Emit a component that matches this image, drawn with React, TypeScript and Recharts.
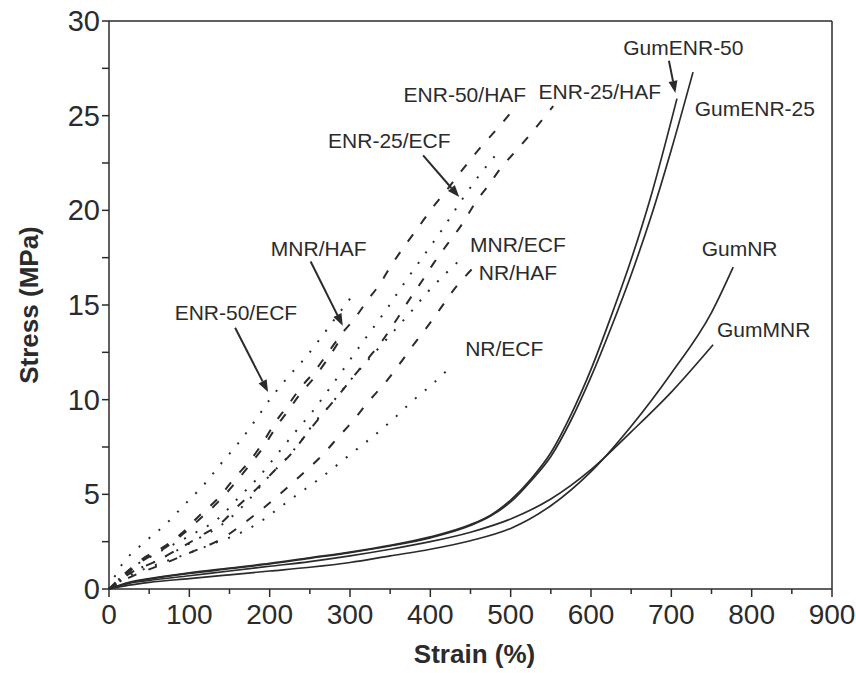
import React from 'react';
import { LineChart, Line, XAxis, YAxis, ReferenceLine, ReferenceDot } from 'recharts';

const INK = '#2b2b2b';
const FONT = '"Liberation Sans", Arial, sans-serif';

type Pt = { x: number; y: number };
const pts = (arr: number[][]): Pt[] => arr.map(([x, y]) => ({ x, y }));

// filled compounds: HAF dashed, ECF dotted
const enr50Ecf = pts([[0, 0], [10, 0.9], [20, 1.5], [45, 2.5], [70, 3.4], [95, 4.5], [118, 5.5], [139, 6.6], [161, 7.7], [182, 8.9], [200, 10.0], [223, 11.2], [246, 12.3], [273, 13.8], [294, 15.0], [305, 15.6]]);
const enr50Haf = pts([[0, 0], [22, 0.9], [42, 1.6], [67, 2.2], [92, 3.0], [113, 3.9], [136, 4.8], [157, 5.9], [176, 6.8], [194, 7.9], [207, 8.8], [221, 9.6], [238, 10.6], [256, 11.5], [273, 12.5], [290, 13.5], [306, 14.3], [321, 15.2], [337, 16.1], [350, 17.0], [366, 18.0], [385, 19.1], [402, 20.1], [421, 21.1], [441, 22.2], [462, 23.3], [483, 24.3], [503, 25.3]]);
const mnrHaf = pts([[0, 0], [22, 0.8], [42, 1.5], [67, 2.1], [92, 2.9], [113, 3.7], [136, 4.6], [157, 5.6], [176, 6.6], [194, 7.6], [207, 8.5], [221, 9.3], [238, 10.3], [256, 11.2], [273, 12.2], [291, 13.4]]);
const enr25Ecf = pts([[0, 0], [25, 1.0], [60, 1.9], [100, 2.8], [138, 3.8], [163, 4.9], [186, 5.9], [211, 7.2], [232, 8.3], [252, 9.3], [273, 10.5], [290, 11.5], [310, 12.7], [329, 13.8], [346, 14.8], [365, 16.0], [390, 17.5], [415, 19.0], [440, 20.6], [460, 21.8], [483, 23.0]]);
const enr25Haf = pts([[0, 0], [25, 0.8], [60, 1.5], [90, 2.2], [116, 2.85], [140, 3.5], [161, 4.4], [184, 5.3], [207, 6.3], [228, 7.2], [246, 8.2], [265, 9.2], [285, 10.2], [304, 11.2], [323, 12.2], [340, 13.1], [356, 14.1], [371, 15.1], [387, 16.1], [404, 17.2], [421, 18.2], [440, 19.3], [456, 20.4], [472, 21.3], [489, 22.3], [508, 23.2], [528, 24.2], [553, 25.5]]);
const mnrEcf = pts([[0, 0], [25, 0.8], [60, 1.5], [100, 2.4], [151, 3.75], [176, 4.8], [198, 5.9], [223, 7.0], [244, 8.1], [254, 8.7], [275, 9.7], [298, 10.9], [331, 12.5], [352, 13.5], [375, 14.6], [397, 15.7], [420, 16.7], [440, 17.5]]);
const nrHaf = pts([[0, 0], [25, 0.6], [60, 1.2], [100, 1.9], [144, 2.75], [167, 3.45], [190, 4.2], [215, 5.1], [240, 6.05], [265, 7.05], [285, 8.0], [304, 8.9], [323, 9.9], [344, 10.9], [362, 11.9], [379, 12.9], [397, 13.9], [414, 14.9], [431, 15.9], [452, 16.9]]);
const nrEcf = pts([[0, 0], [25, 0.7], [60, 1.3], [100, 1.9], [130, 2.4], [163, 2.95], [190, 3.6], [203, 4.0], [225, 4.7], [250, 5.45], [263, 5.85], [303, 7.2], [327, 8.0], [352, 8.9], [377, 9.9], [402, 10.8], [427, 11.8]]);

// gum compounds: solid
const gumEnr50 = pts([[0, 0], [25, 0.35], [50, 0.55], [100, 0.85], [150, 1.1], [200, 1.35], [250, 1.65], [300, 1.95], [350, 2.3], [400, 2.75], [450, 3.4], [475, 3.9], [500, 4.7], [525, 5.8], [550, 7.2], [575, 9.2], [600, 11.6], [625, 14.4], [650, 17.4], [675, 20.8], [707, 25.9]]);
const gumEnr25 = pts([[0, 0], [25, 0.33], [50, 0.52], [100, 0.82], [150, 1.07], [200, 1.32], [250, 1.62], [300, 1.92], [350, 2.27], [400, 2.7], [450, 3.35], [475, 3.85], [500, 4.6], [525, 5.7], [550, 7.0], [575, 8.9], [600, 11.2], [625, 13.8], [650, 16.6], [675, 19.7], [700, 23.2], [727, 27.3]]);
const gumMnr = pts([[0, 0], [25, 0.3], [50, 0.45], [100, 0.7], [150, 0.95], [200, 1.2], [250, 1.45], [300, 1.75], [350, 2.1], [400, 2.5], [450, 3.0], [500, 3.7], [550, 4.75], [600, 6.3], [650, 8.3], [700, 10.4], [752, 12.9]]);
const gumNr = pts([[0, 0], [25, 0.2], [50, 0.35], [100, 0.55], [150, 0.75], [200, 0.95], [250, 1.15], [300, 1.4], [350, 1.75], [400, 2.1], [450, 2.55], [500, 3.2], [550, 4.4], [600, 6.2], [650, 8.6], [700, 11.4], [750, 14.6], [777, 17.0]]);

const xTicks = [0, 50, 100, 150, 200, 250, 300, 350, 400, 450, 500, 550, 600, 650, 700, 750, 800, 850, 900];
const yTicks = [0, 2.5, 5, 7.5, 10, 12.5, 15, 17.5, 20, 22.5, 25, 27.5, 30];

// annotation text: [label, x, y]
const labels: [string, number, number][] = [
  ['ENR-50/HAF', 443, 26.1],
  ['ENR-25/HAF', 611, 26.3],
  ['GumENR-50', 715, 28.6],
  ['GumENR-25', 804, 25.4],
  ['ENR-25/ECF', 349, 23.7],
  ['MNR/HAF', 261, 18.0],
  ['MNR/ECF', 509, 18.2],
  ['NR/HAF', 509, 16.7],
  ['GumNR', 785, 18.0],
  ['ENR-50/ECF', 158, 14.6],
  ['NR/ECF', 492, 12.7],
  ['GumMNR', 815, 13.7],
];

// arrows: [fromX, fromY, toX, toY]
const arrows: number[][] = [
  [157, 13.8, 198, 10.4],
  [251, 17.3, 291, 13.9],
  [391, 22.9, 436, 20.7],
  [697, 27.9, 705, 26.2],
];

const XTick = ({ x, y, payload }: any) => {
  const major = payload.value % 100 === 0;
  return (
    <g>
      <line x1={x} y1={y} x2={x} y2={y + (major ? 8 : 5)} stroke={INK} strokeWidth={1.5} />
      {major && (
        <text x={x} y={y + 35} textAnchor="middle" fontSize={28} fontFamily={FONT} fill={INK}>
          {payload.value}
        </text>
      )}
    </g>
  );
};

const YTick = ({ x, y, payload }: any) => {
  const major = payload.value % 5 === 0;
  return (
    <g>
      <line x1={x} y1={y} x2={x - 7} y2={y} stroke={INK} strokeWidth={1.5} />
      {major && (
        <text x={x - 9} y={y + 10} textAnchor="end" fontSize={29} fontFamily={FONT} fill={INK}>
          {payload.value}
        </text>
      )}
    </g>
  );
};

const Arrow = (p: any) => {
  const { x1, y1, x2, y2 } = p;
  const a = Math.atan2(y2 - y1, x2 - x1);
  const L = 12;
  const W = 4.5;
  const bx = x2 - L * Math.cos(a);
  const by = y2 - L * Math.sin(a);
  const ox = -Math.sin(a) * W;
  const oy = Math.cos(a) * W;
  return (
    <g>
      <line x1={x1} y1={y1} x2={bx} y2={by} stroke={INK} strokeWidth={2} />
      <polygon points={`${x2},${y2} ${bx + ox},${by + oy} ${bx - ox},${by - oy}`} fill={INK} />
    </g>
  );
};

const dashed = '9 13';
const dotted = '2 11';

export default function App() {
  const series: [Pt[], string, number][] = [
    [enr50Ecf, dotted, 2],
    [enr50Haf, dashed, 2],
    [mnrHaf, dashed, 2],
    [enr25Ecf, dotted, 2],
    [enr25Haf, dashed, 2],
    [mnrEcf, dotted, 2],
    [nrHaf, dashed, 2],
    [nrEcf, dotted, 2],
    [gumEnr50, '', 1.7],
    [gumEnr25, '', 1.7],
    [gumMnr, '', 1.7],
    [gumNr, '', 1.7],
  ];

  return (
    <div style={{ position: 'absolute', left: 0, top: 0, width: 856, height: 673, background: '#fff' }}>
      <LineChart width={856} height={673} margin={{ top: 21, right: 24, left: 0, bottom: 0 }}>
        <XAxis
          type="number"
          dataKey="x"
          domain={[0, 900]}
          ticks={xTicks}
          interval={0}
          tickSize={0}
          tickMargin={0}
          tick={<XTick />}
          height={84}
          stroke={INK}
          strokeWidth={1.5}
          label={{
            content: ({ viewBox }: any) => (
              <text
                x={viewBox.x + viewBox.width / 2 + 4}
                y={viewBox.y + 74}
                textAnchor="middle"
                fontSize={26}
                fontWeight="bold"
                fontFamily={FONT}
                fill={INK}
              >
                Strain (%)
              </text>
            ),
          }}
        />
        <YAxis
          type="number"
          domain={[0, 30]}
          ticks={yTicks}
          interval={0}
          tickSize={0}
          tickMargin={0}
          tick={<YTick />}
          width={109}
          stroke={INK}
          strokeWidth={1.5}
          label={{
            content: () => (
              <text
                x={38}
                y={305}
                transform="rotate(-90 38 305)"
                textAnchor="middle"
                fontSize={26}
                fontWeight="bold"
                fontFamily={FONT}
                fill={INK}
              >
                Stress (MPa)
              </text>
            ),
          }}
        />
        <ReferenceLine y={30} stroke={INK} strokeWidth={1.5} />
        <ReferenceLine x={900} stroke={INK} strokeWidth={1.5} />
        {series.map(([d, dash, w], i) => (
          <Line
            key={i}
            data={d}
            dataKey="y"
            type="monotone"
            stroke={INK}
            strokeWidth={w}
            strokeDasharray={dash || undefined}
            dot={false}
            activeDot={false}
            isAnimationActive={false}
          />
        ))}
        {arrows.map(([fx, fy, tx, ty], i) => (
          <ReferenceLine
            key={`a${i}`}
            segment={[{ x: fx, y: fy }, { x: tx, y: ty }]}
            shape={<Arrow />}
          />
        ))}
        {labels.map(([t, x, y]) => (
          <ReferenceDot
            key={t}
            x={x}
            y={y}
            r={0}
            shape={(p: any) => (
              <text
                x={p.cx}
                y={p.cy}
                textAnchor="middle"
                dominantBaseline="central"
                fontSize={21}
                fontFamily={FONT}
                fill={INK}
              >
                {t}
              </text>
            )}
          />
        ))}
      </LineChart>
    </div>
  );
}
